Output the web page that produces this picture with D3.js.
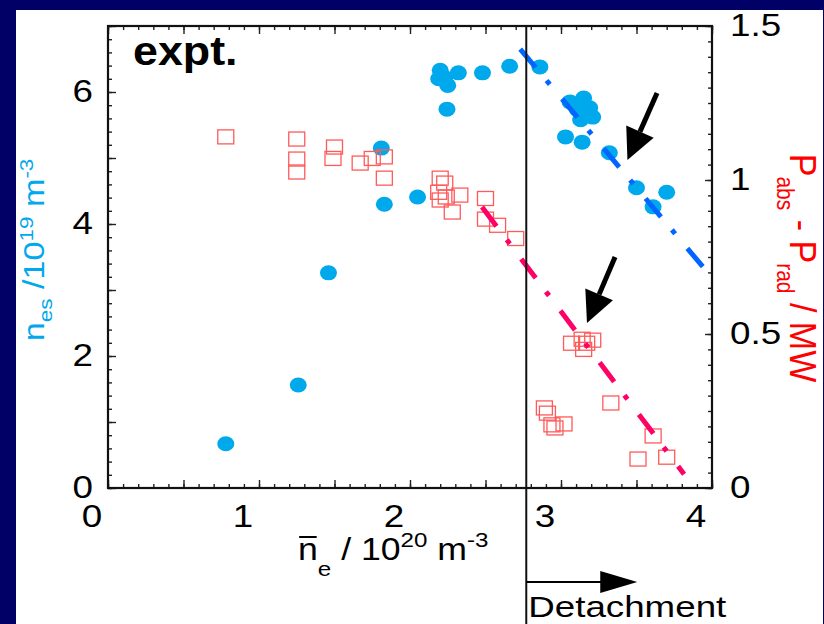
<!DOCTYPE html>
<html>
<head>
<meta charset="utf-8">
<script src="https://cdn.jsdelivr.net/npm/d3@7/dist/d3.min.js"></script>
<style>
  html, body { margin: 0; padding: 0; background: #000066; }
  svg { display: block; }
  text { font-family: "Liberation Sans", Arial, Helvetica, sans-serif; }
</style>
</head>
<body>
<svg id="chart" width="824" height="624"></svg>
<script>
// Line-averaged density (10^20 m^-3) and separatrix density n_es (10^19 m^-3)
const nesDensity = [0.78, 1.26, 1.46, 1.81, 1.83, 2.05, 2.245,
  2.20, 2.19, 2.25, 2.23, 2.32, 2.48, 2.66, 2.86,
  3.06, 3.15, 3.11, 3.19, 3.21, 3.13, 3.03, 3.14, 3.32, 3.50, 3.70, 3.61];
const nesValues = [0.67, 1.56, 3.26, 5.15, 4.30, 4.41, 5.74,
  6.33, 6.20, 6.10, 6.22, 6.29, 6.29, 6.39, 6.38,
  5.85, 5.91, 5.73, 5.76, 5.62, 5.58, 5.32, 5.24, 5.08, 4.55, 4.48, 4.26];

// Line-averaged density and net power P_abs - P_rad (MW)
const powerDensity = [0.78, 1.25, 1.25, 1.25, 1.50, 1.49, 1.67, 1.75, 1.83, 1.83,
  2.20, 2.23, 2.19, 2.24, 2.33, 2.20, 2.28, 2.50, 2.50, 2.58, 2.70,
  3.07, 3.14, 3.21, 3.17, 3.15,
  2.89, 2.91, 2.94, 2.96, 3.02, 3.33, 3.61, 3.51, 3.70];
const powerValues = [1.14, 1.133, 1.068, 1.026, 1.107, 1.07, 1.055, 1.07, 1.075, 1.006,
  1.006, 0.99, 0.96, 0.945, 0.951, 0.935, 0.896, 0.94, 0.873, 0.853, 0.81,
  0.47, 0.483, 0.48, 0.47, 0.45,
  0.26, 0.243, 0.205, 0.195, 0.208, 0.276, 0.169, 0.094, 0.10];

// Trend lines (start / end)
const nesTrendX = [2.73, 3.94];
const nesTrendY = [6.65, 3.35];
const powerTrendX = [2.477, 3.815];
const powerTrendY = [0.912, 0.045];

// Detachment onset density
const detachmentDensity = [2.77];

// Pointer arrows: [x0, y0, x1, y1] tail -> tip
const nesPointer = [3.636, 5.985, 3.44, 4.97];
const powerPointer = [3.358, 0.75, 3.172, 0.536];

// Tick labels
const xTickLabels = [0, 1, 2, 3, 4];
const yLeftTickLabels = [0, 2, 4, 6];
const yRightTickLabels = [0, 0.5, 1, 1.5];

const svg = d3.select("#chart");
const W = 824, H = 624;

// white panel on navy background
svg.append("rect").attr("x", 16).attr("y", 10).attr("width", 807).attr("height", H - 10)
  .attr("fill", "#ffffff");

const mLeft = 108, mRight = 712, mTop = 26, mBottom = 488;
const x = d3.scaleLinear().domain([0, 4]).range([mLeft, mRight]);
const yL = d3.scaleLinear().domain([0, 7]).range([mBottom, mTop]);
const yR = d3.scaleLinear().domain([0, 1.5]).range([mBottom, mTop]);

// lettering is slightly wide: stretch factor along the text direction
const STRETCH = 1.15;
const tickFont = 32;

// ---- ticks (pointing inward on all four sides) ----
function tickGroup(axisFn, scale, values, size, transform) {
  const g = svg.append("g").attr("transform", transform)
    .call(axisFn(scale).tickValues(values).tickSize(-size).tickFormat(""));
  g.select(".domain").remove();
  g.selectAll(".tick line").attr("stroke", "#222").attr("stroke-width", 1.4);
  return g;
}
const xMinor = d3.range(0, 41).map(i => i / 10);
const xMajor = d3.range(0, 9).map(i => i / 2);
tickGroup(d3.axisBottom, x, xMinor, 4, `translate(0,${mBottom})`);
tickGroup(d3.axisBottom, x, xMajor, 8, `translate(0,${mBottom})`);
tickGroup(d3.axisTop, x, xMinor, 4, `translate(0,${mTop})`);
tickGroup(d3.axisTop, x, xMajor, 8, `translate(0,${mTop})`);

const yMinor = d3.range(0, 36).map(i => i / 5);
const yMajor = d3.range(0, 8);
tickGroup(d3.axisLeft, yL, yMinor, 4, `translate(${mLeft},0)`);
tickGroup(d3.axisLeft, yL, yMajor, 8, `translate(${mLeft},0)`);

const rMinor = d3.range(0, 31).map(i => i / 20);
const rMajor = d3.range(0, 4).map(i => i / 2);
tickGroup(d3.axisRight, yR, rMinor, 4, `translate(${mRight},0)`);
tickGroup(d3.axisRight, yR, rMajor, 7, `translate(${mRight},0)`);

// ---- frame ----
svg.append("rect").attr("x", mLeft).attr("y", mTop)
  .attr("width", mRight - mLeft).attr("height", mBottom - mTop)
  .attr("fill", "none").attr("stroke", "#111").attr("stroke-width", 2.2);

// ---- tick labels ----
function stretchedText(px, py, str, anchor, size) {
  return svg.append("text")
    .attr("transform", `translate(${px},${py}) scale(${STRETCH},1)`)
    .attr("text-anchor", anchor).attr("font-size", size)
    .attr("fill", "#000").text(str);
}
xTickLabels.forEach(v => stretchedText(x(v) - 16, 527, v, "middle", tickFont));
yLeftTickLabels.forEach(v => stretchedText(93, yL(v) + 10, v, "end", tickFont));
yRightTickLabels.forEach(v => stretchedText(730, yR(v) + 10, v, "start", tickFont));

// ---- n_es points ----
svg.append("g").selectAll("ellipse")
  .data(d3.zip(nesDensity, nesValues)).join("ellipse")
  .attr("cx", d => x(d[0])).attr("cy", d => yL(d[1]))
  .attr("rx", 8.5).attr("ry", 7.5)
  .attr("fill", "#00a8ec");

// ---- power points ----
svg.append("g").selectAll("rect")
  .data(d3.zip(powerDensity, powerValues)).join("rect")
  .attr("x", d => x(d[0]) - 8).attr("y", d => yR(d[1]) - 7)
  .attr("width", 16).attr("height", 14)
  .attr("fill", "none")
  .attr("stroke", "#ff5a5a").attr("stroke-width", 1.3);

// ---- trend lines (dash-dot) ----
const dashDot = "24,17,5,19";
svg.append("line")
  .attr("x1", x(nesTrendX[0])).attr("y1", yL(nesTrendY[0]))
  .attr("x2", x(nesTrendX[1])).attr("y2", yL(nesTrendY[1]))
  .attr("stroke", "#0066ff").attr("stroke-width", 5)
  .attr("stroke-dasharray", dashDot);
svg.append("line")
  .attr("x1", x(powerTrendX[0])).attr("y1", yR(powerTrendY[0]))
  .attr("x2", x(powerTrendX[1])).attr("y2", yR(powerTrendY[1]))
  .attr("stroke", "#ff0066").attr("stroke-width", 5)
  .attr("stroke-dasharray", dashDot);

// ---- detachment marker ----
const xd = x(detachmentDensity[0]);
svg.append("line").attr("x1", xd).attr("x2", xd).attr("y1", mTop).attr("y2", H)
  .attr("stroke", "#111").attr("stroke-width", 2);
svg.append("line").attr("x1", xd).attr("x2", xd + 76).attr("y1", 582).attr("y2", 582)
  .attr("stroke", "#000").attr("stroke-width", 2);
svg.append("path")
  .attr("d", `M${xd + 74},571 L${xd + 111},582 L${xd + 74},593 Z`)
  .attr("fill", "#000");
svg.append("text").attr("x", xd + 2).attr("y", 617)
  .attr("font-size", 30)
  .attr("textLength", 198).attr("lengthAdjust", "spacingAndGlyphs")
  .text("Detachment");

// ---- pointer arrows ----
function pointer(p, yScale) {
  const x0 = x(p[0]), y0 = yScale(p[1]), x1 = x(p[2]), y1 = yScale(p[3]);
  const ang = Math.atan2(y1 - y0, x1 - x0);
  const headLen = 31, headHalf = 15;
  const bx = x1 - headLen * Math.cos(ang), by = y1 - headLen * Math.sin(ang);
  const nx = -Math.sin(ang), ny = Math.cos(ang);
  svg.append("line").attr("x1", x0).attr("y1", y0).attr("x2", bx).attr("y2", by)
    .attr("stroke", "#000").attr("stroke-width", 5);
  svg.append("path")
    .attr("d", `M${x1},${y1} L${bx + nx * headHalf},${by + ny * headHalf} L${bx - nx * headHalf},${by - ny * headHalf} Z`)
    .attr("fill", "#000");
}
pointer(nesPointer, yL);
pointer(powerPointer, yR);

// ---- "expt." label ----
svg.append("text").attr("transform", "translate(133,65) scale(1.12,1)")
  .attr("font-size", 40).attr("font-weight", "bold").text("expt.");

// ---- x-axis title: n̄e / 10^20 m^-3 ----
const xtTransform = `translate(298,560) scale(${STRETCH},1)`;
const xt = svg.append("text").attr("transform", xtTransform)
  .attr("font-size", 31).attr("fill", "#000");
xt.append("tspan").text("n");
xt.append("tspan").attr("font-size", 21).attr("dy", 16).text("e");
xt.append("tspan").attr("dy", -16).text(" / 10");
xt.append("tspan").attr("font-size", 21).attr("dy", -13).text("20");
xt.append("tspan").attr("dy", 13).text(" m");
xt.append("tspan").attr("font-size", 21).attr("dy", -13).text("-3");
{
  const s = xt.node().getStartPositionOfChar(0), e = xt.node().getEndPositionOfChar(0);
  svg.append("line").attr("transform", xtTransform)
    .attr("x1", s.x + 1).attr("x2", e.x - 1).attr("y1", -23).attr("y2", -23)
    .attr("stroke", "#000").attr("stroke-width", 2);
}

// ---- left title: n_es / 10^19 m^-3 (blue), reads bottom to top ----
const lt = svg.append("text")
  .attr("transform", `translate(44,250) rotate(-90) scale(1.18,1)`)
  .attr("text-anchor", "middle").attr("font-size", 29).attr("fill", "#00a8ec");
lt.append("tspan").text("n");
lt.append("tspan").attr("font-size", 19).attr("dy", 8).text("es");
lt.append("tspan").attr("dy", -8).text(" /10");
lt.append("tspan").attr("font-size", 19).attr("dy", -11).text("19");
lt.append("tspan").attr("dy", 11).text(" m");
lt.append("tspan").attr("font-size", 19).attr("dy", -11).text("-3");

// ---- right title: P_abs - P_rad / MW (red), reads top to bottom ----
const rt = svg.append("text")
  .attr("transform", `translate(790,268) rotate(90) scale(1,1.1)`)
  .attr("text-anchor", "middle").attr("font-size", 34).attr("fill", "#ff0000");
rt.append("tspan").text("P");
rt.append("tspan").attr("font-size", 21).attr("dy", 12).text("abs");
rt.append("tspan").attr("dy", -12).text(" - P");
rt.append("tspan").attr("font-size", 21).attr("dy", 12).text("rad");
rt.append("tspan").attr("dy", -12).text(" / MW");

// navy strip on the right edge
svg.append("rect").attr("x", 823).attr("y", 0).attr("width", 1).attr("height", H).attr("fill", "#000066");
</script>
</body>
</html>
